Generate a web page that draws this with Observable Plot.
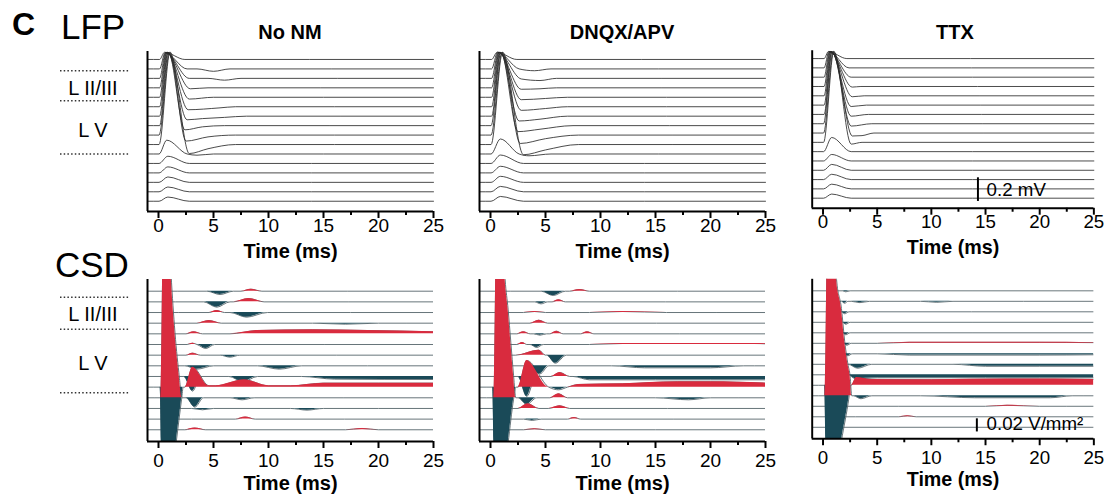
<!DOCTYPE html>
<html><head><meta charset="utf-8">
<script src="https://cdn.jsdelivr.net/npm/d3@7"></script>
<script src="https://cdn.jsdelivr.net/npm/@observablehq/plot@0.6"></script>
<style>
body{margin:0;background:#fff;}
#root{position:relative;width:1117px;height:497px;overflow:hidden;background:#fff;font-family:"Liberation Sans",Arial,sans-serif;}
.panel{position:absolute;}
#overlay{position:absolute;left:0;top:0;}
</style></head>
<body><div id="root"><svg id="overlay" width="1117" height="497"></svg></div>
<script>
// ---------- labels ----------
const PANEL_TITLES = ["No NM", "DNQX/APV", "TTX"];
const TIME_TICKS = [0, 5, 10, 15, 20, 25];
const MINOR_TICKS = [2.5, 7.5, 12.5, 17.5, 22.5];
const LAYER_LABELS = ["L II/III", "L V"];
const ROW_LABELS = ["LFP", "CSD"];
const LFP_SCALE_LABEL = "0.2 mV";
const LFP_SCALE_VALUE = 200;       // µV
const CSD_SCALE_LABEL = "0.02 V/mm²";
const CSD_SCALE_VALUE = 20;        // mV/mm²

// ---------- LFP traces (µV), flat lists of time (ms), value pairs; 16 channels top->bottom ----------
const LFP_NONM = [
  [-1,0, 0.1,0, 0.55,60, 2.4,0, 25,0],
  [-1,0, 0.1,0, 0.6,135, 2.6,0, 3.5,0, 5,-20, 6.5,0, 25,0],
  [-1,0, 0.1,0, 0.65,215, 2.8,0, 4.5,0, 6,-15, 7.5,0, 25,0],
  [-1,0, 0.1,0, 0.7,295, 2.9,-8, 4.5,0, 25,0],
  [-1,0, 0.1,0, 0.75,375, 2.8,-15, 5,0, 25,0],
  [-1,0, 0.1,0, 0.8,455, 2.7,-25, 5.5,-10, 7,0, 25,0],
  [-1,0, 0.1,0, 0.85,530, 2.6,-30, 4,-20, 6,-10, 8,0, 25,0],
  [-1,0, 0.1,0, 0.9,610, 2.4,-35, 4,-10, 6,0, 25,0],
  [-1,0, 0.05,0, 1.0,690, 2.5,-50, 4.5,-15, 7,0, 25,0],
  [-1,0, 0.05,0, 1.05,770, 2.8,-75, 4.5,-35, 7,0, 25,0],
  [-1,0, 0.05,0, 0.75,115, 2.6,0, 3.5,-10, 5,0, 25,0],
  [-1,0, 0.05,0, 0.85,60, 2.8,0, 25,0],
  [-1,0, 0.05,0, 0.85,50, 2.8,0, 25,0],
  [-1,0, 0.05,0, 0.85,45, 2.8,0, 25,0],
  [-1,0, 0.05,0, 0.85,40, 2.8,0, 25,0],
  [-1,0, 0.05,0, 0.85,35, 2.8,0, 25,0]
];
const LFP_DNQX = [
  [-1,0, 0.1,0, 0.6,60, 2.4,0, 25,0],
  [-1,0, 0.1,0, 0.65,140, 2.6,0, 4,-15, 5.5,0, 25,0],
  [-1,0, 0.1,0, 0.7,215, 2.8,-5, 4.5,-18, 6,0, 25,0],
  [-1,0, 0.1,0, 0.75,295, 2.8,-12, 4.5,-8, 6,0, 25,0],
  [-1,0, 0.1,0, 0.8,375, 2.8,-20, 5,-10, 7,0, 25,0],
  [-1,0, 0.1,0, 0.85,455, 2.8,-30, 5,-15, 7,0, 25,0],
  [-1,0, 0.1,0, 0.9,530, 2.6,-40, 4.5,-25, 7,0, 25,0],
  [-1,0, 0.05,0, 0.95,610, 2.5,-50, 4.5,-30, 7.5,0, 25,0],
  [-1,0, 0.05,0, 1.05,690, 2.7,-70, 5,-30, 8,0, 25,0],
  [-1,0, 0.05,0, 1.1,770, 3.0,-85, 5,-45, 8,0, 25,0],
  [-1,0, 0.05,0, 0.9,125, 2.6,0, 3.5,-15, 5.5,0, 25,0],
  [-1,0, 0.05,0, 0.9,70, 3,0, 25,0],
  [-1,0, 0.05,0, 0.9,55, 3,0, 25,0],
  [-1,0, 0.05,0, 0.9,50, 3,0, 25,0],
  [-1,0, 0.05,0, 0.9,45, 3,0, 25,0],
  [-1,0, 0.05,0, 0.9,40, 3,0, 25,0]
];
const LFP_TTX = [
  [-1,0, 0.1,0, 0.5,60, 2.2,0, 25,0],
  [-1,0, 0.1,0, 0.55,140, 2.4,0, 25,0],
  [-1,0, 0.1,0, 0.6,215, 2.6,0, 25,0],
  [-1,0, 0.1,0, 0.65,295, 2.7,-5, 3.5,0, 25,0],
  [-1,0, 0.1,0, 0.7,375, 2.7,-8, 3.8,0, 25,0],
  [-1,0, 0.1,0, 0.75,455, 2.6,-12, 4,0, 25,0],
  [-1,0, 0.1,0, 0.8,530, 2.6,-15, 4.2,0, 25,0],
  [-1,0, 0.05,0, 0.85,610, 2.6,-20, 4.5,0, 25,0],
  [-1,0, 0.05,0, 0.95,690, 2.7,-25, 3.6,-22, 4.7,0, 25,0],
  [-1,0, 0.05,0, 1.0,770, 2.6,-15, 3.6,0, 25,0],
  [-1,0, 0.05,0, 0.8,120, 2.6,0, 25,0],
  [-1,0, 0.05,0, 0.8,55, 2.6,0, 25,0],
  [-1,0, 0.05,0, 0.8,50, 2.6,0, 25,0],
  [-1,0, 0.05,0, 0.8,45, 2.6,0, 25,0],
  [-1,0, 0.05,0, 0.8,40, 2.6,0, 25,0],
  [-1,0, 0.05,0, 0.8,35, 2.6,0, 25,0]
];

// ---------- CSD traces (mV/mm²), 14 channels top->bottom ----------
const CSD_NONM = [
  [-1,0, 4.4,0, 5.6,-5, 6.8,0, 7.5,0, 8.4,3, 9.4,0, 25,0],
  [-1,0, 4.1,0, 5.3,-8, 6.5,0, 6.8,0, 8.2,5, 9.6,0, 25,0],
  [-1,0, 4.6,0, 5.3,3, 6,0, 6.5,0, 8,-7, 9.9,0, 25,0],
  [-1,0, 3.5,0, 4.6,4, 5.7,0, 14,0, 17,-1.5, 20,0, 25,0],
  [-1,0, 2.5,0, 3.2,3, 4,0, 6.5,0, 9,5, 14,6, 19,5, 25,3],
  [-1,0, 2.6,0, 3.1,2, 3.5,0, 4.3,-6, 5.1,0, 25,0],
  [-1,0, 2.5,0, 3.1,3, 3.8,0, 5.6,0, 6.5,-3, 7.4,0, 25,0],
  [-1,0, 2.4,0, 3.5,-5, 5,0, 9,0, 11,-5, 13,0, 25,0],
  [-1,0, 2.3,0, 3.1,-22, 3.8,0, 6.4,0, 7.7,-8, 9,0, 13,0, 16,-4, 25,-4.5],
  [-1,0, 0.15,0, 0.35,-150, 1.1,-150, 1.6,-84, 2.1,-18, 2.25,0, 2.4,0, 3.1,30, 4.6,2, 5.2,2, 7.8,11, 10,2, 12,2, 15,6, 20,6, 25,6],
  [-1,0, 0.2,0, 0.5,300, 0.85,300, 1.1,200, 1.45,108, 1.85,38, 2.15,0, 2.5,0, 3.3,-14, 4.1,0, 6.5,0, 7.6,-3, 8.7,0, 25,0],
  [-1,0, 3,0, 4,-2, 5,0, 12,0, 13.5,-2.5, 15,0, 25,0],
  [-1,0, 7,0, 7.9,3, 8.8,0, 25,0],
  [-1,0, 2.4,0, 3.3,2.5, 4.3,0, 17,0, 18.5,2, 20,0, 25,0]
];
const CSD_DNQX = [
  [-1,0, 4.6,0, 5.7,-6.5, 6.8,0, 7.2,0, 8.1,2.5, 9,0, 25,0],
  [-1,0, 4,0, 4.6,-3, 5.2,0, 5.6,0, 6.2,3, 6.8,0, 25,0],
  [-1,0, 3,0, 4,1.5, 5,0, 9,0, 12,1.5, 16,0, 25,0],
  [-1,0, 3.6,0, 4.4,4.5, 5.2,0, 25,0],
  [-1,0, 2.4,0, 3,3, 3.6,0, 3.9,0, 4.5,-2, 5.1,0, 5.4,0, 6,4, 6.6,0, 8.2,0, 8.8,3, 9.4,0, 25,0],
  [-1,0, 2.4,0, 2.9,3, 3.3,0, 3.6,0, 4.2,-4.5, 4.8,0, 9,0, 12,1.5, 24,1.5, 25,1],
  [-1,0, 2.3,0, 4.4,7.5, 5,0, 5.1,0, 5.9,-12, 6.9,0, 25,0],
  [-1,0, 3,0, 4.5,-12, 5.3,0, 11,0, 14,-3, 20,-3, 23,0, 25,0],
  [-1,0, 2.5,0, 3.3,-30, 4.1,0, 5.5,0, 6.3,6, 7.2,0, 7.5,0, 9,-5, 15,-5, 25,-5],
  [-1,0, 0.2,0, 0.4,-150, 1.1,-150, 1.6,-84, 2.1,-18, 2.3,0, 2.5,0, 3.3,40, 5.3,0, 6.2,-4, 7,0, 8,4, 12,5, 17,8, 20,8, 25,6],
  [-1,0, 0.3,0, 0.6,300, 0.95,300, 1.33,177, 1.6,133, 1.85,83, 2.1,33, 2.3,0, 2.5,0, 3.3,-10, 4.2,0, 5.4,0, 6.2,6, 7,0, 15,0, 18,-3, 20,0, 25,0],
  [-1,0, 2.5,0, 3.4,7, 4.4,0, 5.3,0, 6.3,4, 7.2,0, 25,0],
  [-1,0, 3,0, 3.8,-2, 4.6,0, 7,0, 7.6,2.5, 8.2,0, 25,0],
  [-1,0, 3,0, 4,1.5, 5,0, 25,0]
];
const CSD_TTX = [
  [-1,0, 1.8,0, 2.1,-1.5, 2.5,0, 25,0],
  [-1,0, 1.7,0, 2.0,-3, 2.3,0, 2.6,0, 3.4,-2, 4.3,0, 9,0, 10.5,-1.5, 12,0, 25,0],
  [-1,0, 1.7,0, 2.0,-3, 2.4,0, 25,0],
  [-1,0, 1.8,0, 2.1,-3, 2.5,0, 25,0],
  [-1,0, 1.8,0, 2.1,-3, 2.5,0, 25,0],
  [-1,0, 1.9,0, 2.2,-3, 2.6,0, 5,0, 8,1.5, 20,1.5, 25,1],
  [-1,0, 2.0,0, 2.3,-3, 2.7,0, 5,0, 8,-2, 20,-2, 25,-1.5],
  [-1,0, 2.3,0, 3.2,-6, 4.5,0, 12,0, 15,-3, 25,-3],
  [-1,0, 2.3,0, 3,-6, 5,-4.5, 15,-4.5, 25,-4.5],
  [-1,0, 0.15,0, 0.35,-150, 1.0,-150, 1.7,-84, 2.4,-18, 2.55,0, 2.6,0, 3.1,12, 4.5,9, 10,8.5, 17,9.5, 25,9],
  [-1,0, 0.2,0, 0.45,300, 0.9,300, 1.25,177, 1.7,133, 2.0,83, 2.3,48, 2.5,30, 2.65,0, 2.8,0, 3.5,-4.5, 4.5,0, 9,0, 14,-3, 21,-3, 23,0, 25,0],
  [-1,0, 15,0, 17,1.5, 20,0, 25,0],
  [-1,0, 7,0, 7.8,1.5, 8.6,0, 25,0],
  [-1,0, 25,0]
];

const LFP_SETS = [LFP_NONM, LFP_DNQX, LFP_TTX];
const CSD_SETS = [CSD_NONM, CSD_DNQX, CSD_TTX];

// ---------- styling / layout ----------
const RED = "#d92b3e", TEAL = "#1a4a58";
const FONT = "'Liberation Sans', Arial, sans-serif";
const AXIS_X = [147, 479, 812];
const FRAME_W = 286, ML = 20, MR = 24;
const root = document.getElementById("root");

function pairs(a) { const o = []; for (let k = 0; k < a.length; k += 2) o.push([a[k], a[k + 1]]); return o; }

function axisMarks(pad, labelDy) {
  return [
    Plot.ruleX([-1], {strokeWidth: 2}),
    Plot.ruleY([0], {strokeWidth: 2}),
    Plot.axisX({ticks: TIME_TICKS, tickSize: 7, tickPadding: pad, fontSize: 19, label: null, strokeWidth: 2}),
    Plot.axisX({ticks: MINOR_TICKS, tickSize: 4, tickFormat: () => "", label: null, strokeWidth: 2}),
    Plot.text(["Time (ms)"], {text: d => d, frameAnchor: "bottom", dy: labelDy, lineAnchor: "bottom", fontWeight: "bold", fontSize: 20})
  ];
}

function place(svg, left, top) {
  const d = document.createElement("div");
  d.className = "panel"; d.style.left = left + "px"; d.style.top = top + "px";
  d.appendChild(svg); root.appendChild(d);
}

function lfpPlot(traces, p) {
  const base = i => (152 - 9.45 * i) * 8.333;
  const rows = traces.flatMap((tr, i) => pairs(tr).map(([t, v]) => ({i, t, y: base(i) + v})));
  const marks = [
    Plot.line(rows, {x: "t", y: "y", z: "i", stroke: "#2a2a2a", strokeWidth: 0.85, curve: "monotone-x"}),
    ...axisMarks(0, 46)
  ];
  if (p === 2) {
    marks.push(Plot.ruleX([14.3], {y1: 58, y2: 58 + LFP_SCALE_VALUE, strokeWidth: 2}));
    marks.push(Plot.text([LFP_SCALE_LABEL], {text: d => d, x: 15.1, y: 158, textAnchor: "start", fontSize: 19}));
  }
  return Plot.plot({
    width: ML + FRAME_W + MR, height: 51 + 160 + 55,
    marginLeft: ML, marginRight: MR, marginTop: 51, marginBottom: 55,
    x: {domain: [-1, 25], label: null}, y: {domain: [0, 1333], axis: null},
    style: {fontFamily: FONT, background: "transparent", overflow: "visible", color: "#000"},
    marks
  });
}

function csdPlot(traces, p) {
  const base = i => (150.3 - 10.66 * i) * 1.5;
  const lineRows = [], areaRows = [];
  traces.forEach((tr, i) => {
    const b = base(i), pts = pairs(tr);
    pts.forEach(([t, v]) => lineRows.push({i, t, y: b + v}));
    pts.forEach(([t, v]) => areaRows.push({key: i + "p", t, y1: b, y2: b + Math.max(v, 0), fill: RED}));
    pts.forEach(([t, v]) => areaRows.push({key: i + "n", t, y1: b, y2: b + Math.min(v, 0), fill: TEAL}));
  });
  const marks = [
    Plot.line(lineRows, {x: "t", y: "y", z: "i", stroke: "#56656b", strokeWidth: 0.9, curve: "monotone-x", clip: true}),
    Plot.areaY(areaRows, {x: "t", y1: "y1", y2: "y2", z: "key", fill: "fill", curve: "monotone-x", clip: true}),
    ...axisMarks(5, 48)
  ];
  if (p === 2) {
    marks.push(Plot.ruleX([14.2], {y1: 10.5, y2: 10.5 + CSD_SCALE_VALUE, strokeWidth: 2}));
    marks.push(Plot.text([CSD_SCALE_LABEL], {text: d => d, x: 15.1, y: 22, textAnchor: "start", fontSize: 19}));
  }
  return Plot.plot({
    width: ML + FRAME_W + MR, height: 13 + 162 + 55,
    marginLeft: ML, marginRight: MR, marginTop: 13, marginBottom: 55,
    x: {domain: [-1, 25], label: null}, y: {domain: [0, 243], axis: null},
    style: {fontFamily: FONT, background: "transparent", overflow: "visible", color: "#000"},
    marks
  });
}

for (let p = 0; p < 3; p++) {
  place(lfpPlot(LFP_SETS[p], p), AXIS_X[p] - ML, 0);
  place(csdPlot(CSD_SETS[p], p), AXIS_X[p] - ML, 266);
}

// ---------- overlay: panel letter, row labels, titles, layer markers ----------
const ov = d3.select("#overlay").style("font-family", FONT);
ov.append("text").attr("x", 12).attr("y", 35).attr("font-size", 32).attr("font-weight", "bold").text("C");
ov.append("text").attr("x", 61).attr("y", 39).attr("font-size", 35).text(ROW_LABELS[0]);
ov.append("text").attr("x", 55).attr("y", 277).attr("font-size", 35).text(ROW_LABELS[1]);
PANEL_TITLES.forEach((t, p) => {
  ov.append("text").attr("x", AXIS_X[p] + FRAME_W / 2).attr("y", 39).attr("text-anchor", "middle")
    .attr("font-size", 20).attr("font-weight", "bold").text(t);
});
[[70.7, 100.7, 154, 95, 137], [297.3, 329.3, 392.7, 321, 370]].forEach(([a, b, c, l1, l2]) => {
  [a, b, c].forEach(y => ov.append("line").attr("x1", 60).attr("x2", 129).attr("y1", y).attr("y2", y)
    .attr("stroke", "#333").attr("stroke-width", 1.6).attr("stroke-dasharray", "1.5 2.2"));
  ov.append("text").attr("x", 93).attr("y", l1).attr("text-anchor", "middle").attr("font-size", 20).text(LAYER_LABELS[0]);
  ov.append("text").attr("x", 93).attr("y", l2).attr("text-anchor", "middle").attr("font-size", 20).text(LAYER_LABELS[1]);
});
</script></body></html>
